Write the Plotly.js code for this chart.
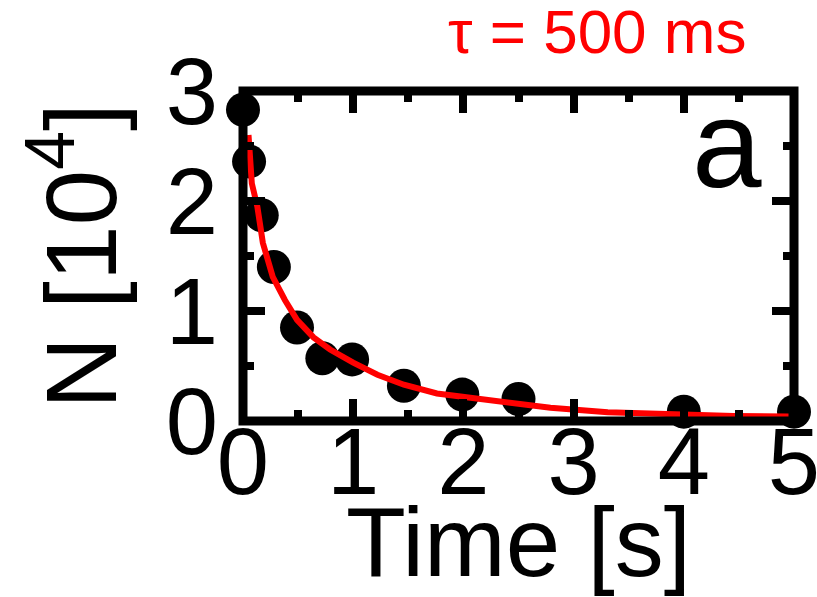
<!DOCTYPE html>
<html>
<head>
<meta charset="utf-8">
<script src="https://cdn.plot.ly/plotly-3.0.1.min.js"></script>
<style>html,body{margin:0;padding:0;background:#fff;}#chart{width:817px;height:597px;}</style>
</head>
<body>
<div id="chart"></div>
<script>
// measured data points (time in s, N in units of 10^4)
const timeData = [0, 0.055, 0.17, 0.28, 0.49, 0.72, 0.99, 1.46, 1.99, 2.5, 4.0, 5.0];
const nData    = [2.83, 2.36, 1.87, 1.40, 0.85, 0.57, 0.56, 0.32, 0.24, 0.20, 0.085, 0.085];

// fitted curve (tau = 500 ms)
const fitT = [0.05, 0.08, 0.13, 0.18, 0.27, 0.38, 0.49, 0.64, 0.79, 1.0, 1.22, 1.46, 1.76, 2.06, 2.34, 2.79, 3.31, 3.85, 4.45, 4.95];
const fitN = [2.60, 2.16, 1.95, 1.62, 1.31, 1.10, 0.92, 0.76, 0.65, 0.53, 0.42, 0.33, 0.25, 0.21, 0.17, 0.12, 0.08, 0.06, 0.045, 0.04];

const xTicks = [0, 1, 2, 3, 4, 5];
const yTicks = [0, 1, 2, 3];

const FONT = 'Liberation Sans, Arial, sans-serif';

const traces = [
  {
    x: timeData, y: nData, type: 'scatter', mode: 'markers',
    marker: {color: '#000', size: 34},
    cliponaxis: false, hoverinfo: 'skip'
  },
  {
    x: fitT, y: fitN, type: 'scatter', mode: 'lines',
    line: {color: '#ff0000', width: 6},
    cliponaxis: false, hoverinfo: 'skip'
  }
];

const axisCommon = {
  showgrid: false, zeroline: false, showline: false,
  ticks: 'inside', ticklen: 22, tickwidth: 8, tickcolor: '#000',
  mirror: 'ticks',
  ticklabeloverflow: 'allow',
  minor: {ticks: 'inside', ticklen: 11, tickwidth: 8, tickcolor: '#000', showgrid: false},
  tickfont: {family: FONT, size: 94, color: '#000'}
};

const layout = {
  width: 817, height: 597,
  margin: {l: 243, r: 23, t: 91, b: 176},
  paper_bgcolor: '#fff', plot_bgcolor: '#fff',
  showlegend: false,
  font: {family: FONT, color: '#000'},
  xaxis: Object.assign({}, axisCommon, {
    range: [0, 5], tickvals: xTicks, ticktext: xTicks.map(String),
    ticklabelstandoff: -22,
    minor: Object.assign({}, axisCommon.minor, {dtick: 0.5}),
    title: {text: 'Time [s]', font: {family: FONT, size: 98, color: '#000'}, standoff: 0}
  }),
  yaxis: Object.assign({}, axisCommon, {
    range: [0, 3], tickvals: yTicks, ticktext: yTicks.map(String),
    ticklabelstandoff: 24,
    minor: Object.assign({}, axisCommon.minor, {dtick: 0.5}),
    title: {text: 'N [10<sup>4</sup>]', font: {family: FONT, size: 100, color: '#000'}, standoff: 15}
  }),
  shapes: [
    {type: 'rect', xref: 'paper', yref: 'paper', x0: 0, x1: 1, y0: 0, y1: 1,
     line: {color: '#000', width: 9}, layer: 'above'}
  ],
  annotations: [
    {text: 'τ = 500 ms', xref: 'paper', yref: 'paper', x: 0.6425, y: 1.18,
     xanchor: 'center', yanchor: 'middle', showarrow: false,
     font: {family: FONT, size: 62, color: '#ff0000'}},
    {text: 'a', xref: 'paper', yref: 'paper', x: 0.878, y: 0.842,
     xanchor: 'center', yanchor: 'middle', showarrow: false,
     font: {family: FONT, size: 125, color: '#000'}}
  ]
};

Plotly.newPlot('chart', traces, layout, {displayModeBar: false, staticPlot: true});
</script>
</body>
</html>
